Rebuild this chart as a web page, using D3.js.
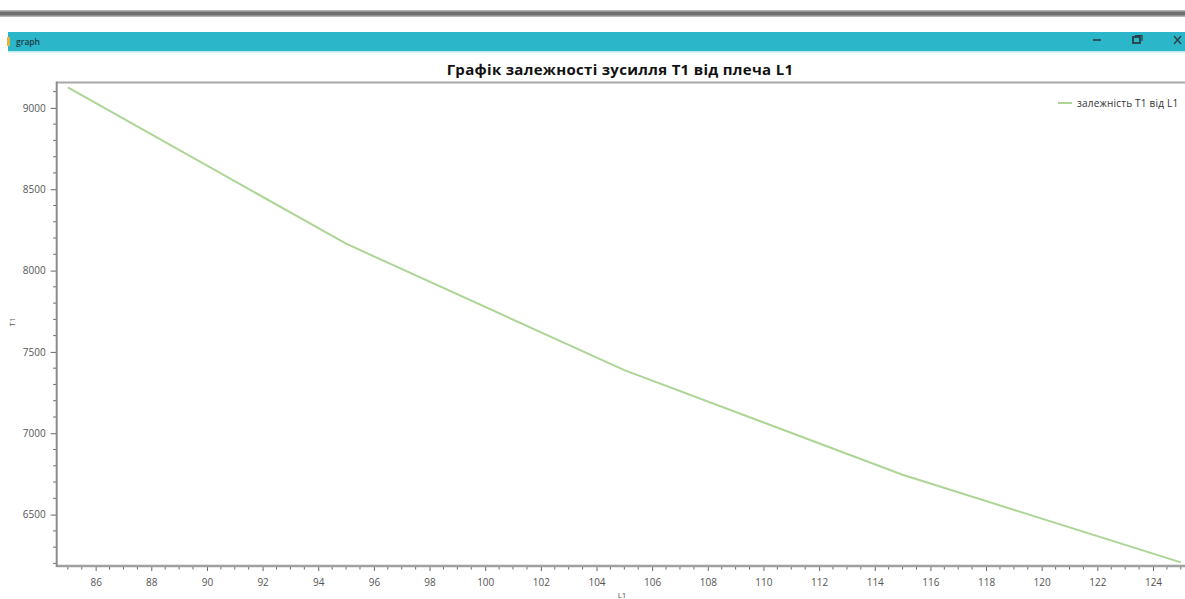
<!DOCTYPE html>
<html>
<head>
<meta charset="utf-8">
<script src="https://cdn.jsdelivr.net/npm/d3@7"></script>
<style>
  html, body { margin: 0; padding: 0; background: #fff; overflow: hidden; }
  svg { display: block; }
</style>
</head>
<body>
<svg id="chart" width="1185" height="599"></svg>
<script>
// Arm length L1 and the resulting force T1
const armL1 = [85, 95, 105, 115, 125];
const forceT1 = [9126, 8165, 7388, 6745, 6206];

const xTickValues = [86, 88, 90, 92, 94, 96, 98, 100, 102, 104, 106, 108, 110, 112, 114, 116, 118, 120, 122, 124];
const yTickValues = [6500, 7000, 7500, 8000, 8500, 9000];

const chartTitle = "Графік залежності зусилля T1 від плеча L1";
const seriesName = "залежність T1 від L1";
const windowTitle = "graph";

(function () {
const W = 1185, H = 599;
const svg = d3.select("#chart");
const font = "'Open Sans', 'Noto Sans', sans-serif";
const lineColor = "#add596";

// ---- window frame ----
svg.append("rect").attr("x", 0).attr("y", 10).attr("width", W).attr("height", 7).attr("fill", "#b4b4b4");
svg.append("rect").attr("x", 0).attr("y", 11.5).attr("width", W).attr("height", 4).attr("fill", "#6e6e6e");

svg.append("rect").attr("x", 8).attr("y", 32).attr("width", W - 8).attr("height", 20).attr("fill", "#2bb6c9");
svg.append("rect").attr("x", 8).attr("y", 51).attr("width", W - 8).attr("height", 1.5).attr("fill", "#bfe8ee");
svg.append("rect").attr("x", 7).attr("y", 37).attr("width", 3).attr("height", 9).attr("fill", "#e8b23a");
svg.append("text").attr("x", 16).attr("y", 45).attr("font-family", font).attr("font-size", 8.5)
  .attr("font-weight", 600).attr("fill", "#1d3c44").text(windowTitle);

// minimize / restore / close
svg.append("line").attr("x1", 1093).attr("x2", 1101).attr("y1", 40).attr("y2", 40)
  .attr("stroke", "#2b3d44").attr("stroke-width", 1.6);
svg.append("rect").attr("x", 1133).attr("y", 37).attr("width", 7).attr("height", 6)
  .attr("fill", "none").attr("stroke", "#2b3d44").attr("stroke-width", 1.8);
svg.append("path").attr("d", "M1135,35.5 H1142 V41").attr("fill", "none").attr("stroke", "#2b3d44").attr("stroke-width", 1.2);
svg.append("path").attr("d", "M1174,36 L1181,44 M1181,36 L1174,44").attr("stroke", "#2b3d44").attr("stroke-width", 1.4);

// ---- plot area ----
const pLeft = 56.7, pRight = 1185, pTop = 82.5, pBottom = 566;
const x = d3.scaleLinear().domain([84.6, 125.15]).range([pLeft, pRight]);
const y = d3.scaleLinear().domain([6184, 9156]).range([pBottom, pTop]);

// title
svg.append("text").attr("x", 620).attr("y", 75).attr("text-anchor", "middle")
  .attr("font-family", font).attr("font-size", 15).attr("font-weight", 700).attr("fill", "#111")
  .attr("letter-spacing", 0.3)
  .text(chartTitle);

// frame top
svg.append("line").attr("x1", pLeft).attr("x2", W).attr("y1", pTop).attr("y2", pTop)
  .attr("stroke", "#a8a8a8").attr("stroke-width", 2);

// minor ticks
const xMinor = d3.range(85, 125.01, 0.5).filter(v => !xTickValues.includes(v));
const yMinor = d3.range(6200, 9101, 100).filter(v => !yTickValues.includes(v));

const gx = svg.append("g").attr("transform", `translate(0,${pBottom})`);
gx.selectAll("line.minor").data(xMinor).join("line").attr("class", "minor")
  .attr("x1", d => x(d)).attr("x2", d => x(d)).attr("y1", 0).attr("y2", 3.5)
  .attr("stroke", "#666").attr("stroke-width", 1);
const xAxis = d3.axisBottom(x).tickValues(xTickValues).tickSize(5).tickPadding(8).tickFormat(d3.format("d"));
gx.call(xAxis);
gx.select(".domain").remove();
gx.selectAll(".tick line").attr("stroke", "#666");
gx.selectAll(".tick text").attr("font-family", font).attr("font-size", 10).attr("fill", "#555");
svg.append("line").attr("x1", pLeft).attr("x2", W).attr("y1", pBottom).attr("y2", pBottom)
  .attr("stroke", "#a0a0a0").attr("stroke-width", 2.5);

const gy = svg.append("g").attr("transform", `translate(${pLeft},0)`);
gy.selectAll("line.minor").data(yMinor).join("line").attr("class", "minor")
  .attr("y1", d => y(d)).attr("y2", d => y(d)).attr("x1", 0).attr("x2", -3.5)
  .attr("stroke", "#666").attr("stroke-width", 1);
const yAxis = d3.axisLeft(y).tickValues(yTickValues).tickSize(6).tickPadding(5).tickFormat(d3.format("d"));
gy.call(yAxis);
gy.select(".domain").remove();
gy.selectAll(".tick line").attr("stroke", "#666");
gy.selectAll(".tick text").attr("font-family", font).attr("font-size", 10).attr("fill", "#555");
svg.append("line").attr("x1", pLeft).attr("x2", pLeft).attr("y1", pTop - 1).attr("y2", pBottom + 1)
  .attr("stroke", "#8c8c8c").attr("stroke-width", 2);

// axis labels
svg.append("text").attr("x", 622).attr("y", 598).attr("text-anchor", "middle")
  .attr("font-family", font).attr("font-size", 8).attr("fill", "#555").text("L1");
svg.append("text").attr("transform", "translate(15,322) rotate(-90)").attr("text-anchor", "middle")
  .attr("font-family", font).attr("font-size", 8).attr("fill", "#555").text("T1");

// series
const pts = armL1.map((l, i) => [l, forceT1[i]]);
svg.append("path").datum(pts)
  .attr("d", d3.line().x(d => x(d[0])).y(d => y(d[1])))
  .attr("fill", "none").attr("stroke", lineColor).attr("stroke-width", 2);

// legend
svg.append("line").attr("x1", 1058).attr("x2", 1072).attr("y1", 103).attr("y2", 103)
  .attr("stroke", lineColor).attr("stroke-width", 2);
svg.append("text").attr("x", 1077).attr("y", 106.5).attr("font-family", font).attr("font-size", 10)
  .attr("letter-spacing", 0.2).attr("fill", "#333").text(seriesName);
})();
</script>
</body>
</html>
